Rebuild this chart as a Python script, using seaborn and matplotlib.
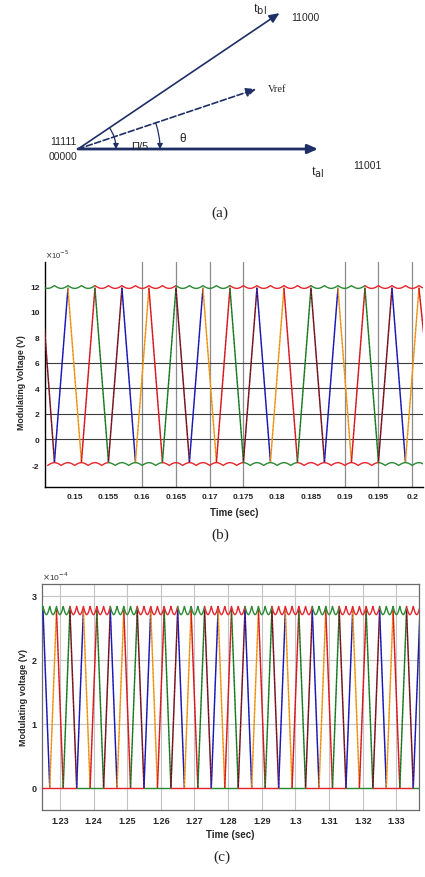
import numpy as np
import pandas as pd
import matplotlib
matplotlib.use("Agg")
import matplotlib.pyplot as plt
from matplotlib.patches import FancyArrowPatch
import seaborn as sns

W, H = 425, 878

# ---------------- panel (a): sector vectors ----------------
vec_names = [r"t$_{\rm al}$", r"t$_{\rm bl}$", "Vref"]
vec_angle_deg = [0.0, 34.0, 18.6]
vec_length = [240, 243, 188]
vec_codes = ["11001", "11000", ""]
arc_labels = ["\u03a0/5", "\u03b8"]
arc_radius = [38, 82]
arc_angle_deg = [34.0, 18.6]

# ---------------- panel (b) ----------------
b_peak_t = [0.149, 0.153, 0.157, 0.161, 0.165, 0.169, 0.173, 0.177,
            0.181, 0.185, 0.189, 0.193, 0.197, 0.201]
b_trough_t = [0.147, 0.151, 0.155, 0.159, 0.163, 0.167, 0.171, 0.175,
              0.179, 0.183, 0.187, 0.191, 0.195, 0.199]
b_edge_t = [0.1455, 0.2017]
b_edge_v = [8.9, 8.3]
b_peak_v = 11.85
b_trough_v = -1.75
b_upper_env = (12.05, 0.22)     # cusp level, ripple depth
b_lower_env = (-2.03, 0.22)     # valley level, ripple height
b_ripple_edge_t = [0.145, 0.203]
b_upper_switch = [0.145, 0.153, 0.165, 0.173, 0.185, 0.193, 0.203]
b_upper_cols = ["green", "red", "green", "red", "green", "red"]
b_lower_switch = [0.144, 0.155, 0.163, 0.175, 0.183, 0.195, 0.204]
b_lower_cols = ["red", "green", "red", "green", "red", "green"]
b_first_phase = 4   # first segment is the dark-red phase
b_xticks = [0.15, 0.155, 0.16, 0.165, 0.17, 0.175, 0.18, 0.185, 0.19, 0.195, 0.2]
b_xlabels = ["0.15", "0.155", "0.16", "0.165", "0.17", "0.175", "0.18",
             "0.185", "0.19", "0.195", "0.2"]
b_yticks = [-2, 0, 2, 4, 6, 8, 10, 12]
b_vgrid = [0.16, 0.165, 0.17, 0.175, 0.19, 0.195, 0.2]
b_hgrid = [0, 2, 4, 6]

# ---------------- panel (c) ----------------
c_peak_t = [1.225, 1.229, 1.233, 1.237, 1.241, 1.245, 1.249, 1.253, 1.257,
            1.261, 1.265, 1.269, 1.273, 1.277, 1.281, 1.285, 1.289, 1.293,
            1.297, 1.301, 1.305, 1.309, 1.313, 1.317, 1.321, 1.325, 1.329,
            1.333, 1.337]
c_trough_t = [1.227, 1.231, 1.235, 1.239, 1.243, 1.247, 1.251, 1.255, 1.259,
              1.263, 1.267, 1.271, 1.275, 1.279, 1.283, 1.287, 1.291, 1.295,
              1.299, 1.303, 1.307, 1.311, 1.315, 1.319, 1.323, 1.327, 1.331,
              1.335]
c_peak_v = 2.77
c_trough_v = 0.0
c_upper_env = (2.83, 0.13)
c_lower_env = (0.0, 0.0)
c_ripple_edge_t = [1.223, 1.339]
c_upper_switch = [1.223, 1.233, 1.245, 1.253, 1.265, 1.273, 1.285, 1.293,
                  1.305, 1.313, 1.325, 1.333, 1.339]
c_upper_cols = ["green", "red"] * 6
c_lower_switch = [1.223, 1.235, 1.243, 1.255, 1.263, 1.275, 1.283, 1.295,
                  1.303, 1.315, 1.323, 1.335, 1.339]
c_lower_cols = ["red", "green"] * 6
c_first_phase = 0
c_xticks = [1.23, 1.24, 1.25, 1.26, 1.27, 1.28, 1.29, 1.3, 1.31, 1.32, 1.33]
c_xlabels = ["1.23", "1.24", "1.25", "1.26", "1.27", "1.28", "1.29", "1.3",
             "1.31", "1.32", "1.33"]
c_yticks = [0, 1, 2, 3]

# phase colours (main colour, stripe colour) in order of appearance
phase_cols = [("#1c1cc8", "#2a0a20"), ("#f2a21e", "#d83a18"),
              ("#e41e26", "#7a0a14"), ("#1f8a2a", "#2a1010"),
              ("#6a0c18", "#f05a70")]
env_rgb = {"green": "#2a8a32", "red": "#e4262c"}
# shape of one ripple scallop (fraction along, relative depth)
scallop_frac = [0.0, 0.08, 0.2, 0.35, 0.5, 0.65, 0.8, 0.92, 1.0]
scallop_prof = [0.0, 0.25, 0.59, 0.89, 1.0, 0.89, 0.59, 0.25, 0.0]

sns.set_theme(style="white")
plt.rcParams["font.family"] = ["Liberation Sans", "DejaVu Sans"]
plt.rcParams["axes.unicode_minus"] = False

fig = plt.figure(figsize=(W / 100, H / 100), dpi=100)


def px_axes(l, t, r, b):
    return fig.add_axes([l / W, 1 - b / H, (r - l) / W, (b - t) / H])


def draw_zigzag(ax, peak_t, trough_t, peak_v, trough_v, edge_t, edge_v, first_phase):
    pts = [(t, peak_v) for t in peak_t] + [(t, trough_v) for t in trough_t]
    pts += list(zip(edge_t, edge_v))
    pts.sort()
    rows, pal, dash_pal = [], {}, {}
    for i in range(len(pts) - 1):
        key = f"s{i:02d}"
        main, stripe = phase_cols[(first_phase + i) % 5]
        pal[key], dash_pal[key] = main, stripe
        rows.append((pts[i][0], pts[i][1], key))
        rows.append((pts[i + 1][0], pts[i + 1][1], key))
    df = pd.DataFrame(rows, columns=["t", "v", "seg"])
    sns.lineplot(data=df, x="t", y="v", hue="seg", palette=pal, estimator=None,
                 sort=False, legend=False, ax=ax, lw=1.05, zorder=3)
    sns.lineplot(data=df, x="t", y="v", hue="seg", palette=dash_pal, estimator=None,
                 sort=False, legend=False, ax=ax, lw=0.7, zorder=4,
                 alpha=0.4, linestyle=(0, (1.5, 2.5)))


def draw_envelope(ax, cusp_t, env, sign, switch, cols):
    base, amp = env
    cusp_t = sorted(cusp_t)
    pts = []
    for a, b in zip(cusp_t[:-1], cusp_t[1:]):
        for f, p in zip(scallop_frac[:-1], scallop_prof[:-1]):
            pts.append((a + f * (b - a), base + sign * amp * p))
    pts.append((cusp_t[-1], base))
    rows, pal = [], {}
    for j, (a, b) in enumerate(zip(switch[:-1], switch[1:])):
        key = f"e{j:02d}"
        pal[key] = env_rgb[cols[j]]
        rows += [(t, v, key) for t, v in pts if a - 1e-9 <= t <= b + 1e-9]
    df = pd.DataFrame(rows, columns=["t", "v", "run"])
    sns.lineplot(data=df, x="t", y="v", hue="run", palette=pal, estimator=None,
                 sort=False, legend=False, ax=ax, lw=1.0, zorder=5)


def midpoints(ts):
    ts = sorted(ts)
    return [(a + b) / 2 for a, b in zip(ts[:-1], ts[1:])]


# ---------------- (a) ----------------
ax_a = px_axes(0, 0, W, 230)
ax_a.set_xlim(-78, W - 78)
ax_a.set_ylim(150 - 230, 150)
ax_a.axis("off")
navy = "#1e2f66"
for name, ang, ln, code in zip(vec_names, vec_angle_deg, vec_length, vec_codes):
    r = np.deg2rad(ang)
    end = (ln * np.cos(r), ln * np.sin(r))
    ls = "--" if name == "Vref" else "-"
    lw = 2.0 if ang == 0 else 1.2
    ax_a.annotate("", xy=end, xytext=(0, 0),
                  arrowprops=dict(arrowstyle="-|>,head_length=0.5,head_width=0.22",
                                  color=navy, lw=lw, linestyle=ls, shrinkA=0, shrinkB=0))
for lab, rad, ang in zip(arc_labels, arc_radius, arc_angle_deg):
    r = np.deg2rad(ang)
    start = (rad * np.cos(r), rad * np.sin(r))
    arc = FancyArrowPatch(start, (rad, 0),
                          connectionstyle=f"arc3,rad={-np.tan(r / 4):.4f}",
                          arrowstyle="-|>,head_length=3,head_width=1.6",
                          color=navy, lw=0.9, shrinkA=0, shrinkB=0)
    ax_a.add_patch(arc)

ax_a.text(-15, 8, "11111", fontsize=7.5, ha="center", va="center")
ax_a.text(-15, -7, "00000", fontsize=7.5, ha="center", va="center")
ax_a.text(62, 3, arc_labels[0], fontsize=8, ha="center", va="center")
ax_a.text(105, 11, arc_labels[1], fontsize=8.5, ha="center", va="center")
ax_a.text(182, 141, vec_names[1], fontsize=10, family="Liberation Serif",
          ha="center", va="center")
ax_a.text(227, 132, vec_codes[1], fontsize=7.5, ha="center", va="center")
ax_a.text(190, 61, vec_names[2], fontsize=7.5, family="Liberation Serif",
          ha="left", va="center")
ax_a.text(240, -22, vec_names[0], fontsize=10, family="Liberation Serif",
          ha="center", va="center")
ax_a.text(289, -16, vec_codes[0], fontsize=7.5, ha="center", va="center")
fig.text(220 / W, 1 - 213 / H, "(a)", fontsize=11, family="Liberation Serif",
         ha="center", va="center")

# ---------------- (b) ----------------
ax_b = px_axes(45, 263, 423, 488)
for x in b_vgrid:
    ax_b.axvline(x, color="#8c8c8c", lw=0.9, zorder=1)
for y in b_hgrid:
    ax_b.axhline(y, color="#3c3c3c", lw=0.8, zorder=1)
draw_zigzag(ax_b, b_peak_t, b_trough_t, b_peak_v, b_trough_v,
            b_edge_t, b_edge_v, b_first_phase)
b_cusps = b_peak_t + b_trough_t + b_ripple_edge_t
draw_envelope(ax_b, b_cusps, b_upper_env, -1, b_upper_switch, b_upper_cols)
draw_envelope(ax_b, midpoints(b_cusps), b_lower_env, 1, b_lower_switch, b_lower_cols)
ax_b.set_xlim(0.1456, 0.2016)
ax_b.set_ylim(-3.72, 13.9)
ax_b.set_xticks(b_xticks, b_xlabels)
ax_b.set_yticks(b_yticks)
for s in ["top", "right"]:
    ax_b.spines[s].set_visible(False)
for s in ["left", "bottom"]:
    ax_b.spines[s].set_color("black")
    ax_b.spines[s].set_linewidth(1.0)
ax_b.tick_params(length=0, labelsize=6, pad=4)
for lab in ax_b.get_xticklabels() + ax_b.get_yticklabels():
    lab.set_fontweight("bold")
ax_b.set_xlabel("Time (sec)", fontsize=7, fontweight="bold", labelpad=5)
ax_b.set_ylabel("Modulating Voltage (V)", fontsize=6.3, fontweight="bold")
ax_b.yaxis.set_label_coords(-0.05, 0.467)
ax_b.text(0, 1.01, r"$\times$10$^{-5}$", transform=ax_b.transAxes, fontsize=5.5,
          ha="left", va="bottom", color="#333333")
fig.text(220 / W, 1 - 535 / H, "(b)", fontsize=11, family="Liberation Serif",
         ha="center", va="center")

# ---------------- (c) ----------------
ax_c = px_axes(42, 585, 419, 811)
ax_c.set_xticks(c_xticks, c_xlabels)
ax_c.set_yticks(c_yticks)
ax_c.grid(True, color="#c4c4c4", lw=0.8, zorder=1)
ax_c.set_axisbelow(True)
draw_zigzag(ax_c, c_peak_t, c_trough_t, c_peak_v, c_trough_v, [], [], c_first_phase)
c_cusps = c_peak_t + c_trough_t + c_ripple_edge_t
draw_envelope(ax_c, c_cusps, c_upper_env, -1, c_upper_switch, c_upper_cols)
draw_envelope(ax_c, c_cusps, c_lower_env, 1, c_lower_switch, c_lower_cols)
ax_c.set_xlim(1.2247, 1.3367)
ax_c.set_ylim(-0.35, 3.18)
for s in ax_c.spines.values():
    s.set_color("#6a6a6a")
    s.set_linewidth(0.9)
ax_c.tick_params(length=0, labelsize=6.5, pad=4)
for lab in ax_c.get_xticklabels() + ax_c.get_yticklabels():
    lab.set_fontweight("bold")
ax_c.set_xlabel("Time (sec)", fontsize=7, fontweight="bold", labelpad=3)
ax_c.set_ylabel("Modulating voltage (V)", fontsize=6.5, fontweight="bold")
ax_c.yaxis.set_label_coords(-0.037, 0.5)
ax_c.text(0, 1.01, r"$\times$10$^{-4}$", transform=ax_c.transAxes, fontsize=6,
          ha="left", va="bottom", color="#333333")
fig.text(222 / W, 1 - 857 / H, "(c)", fontsize=11, family="Liberation Serif",
         ha="center", va="center")

fig.savefig("out.png", dpi=100)
